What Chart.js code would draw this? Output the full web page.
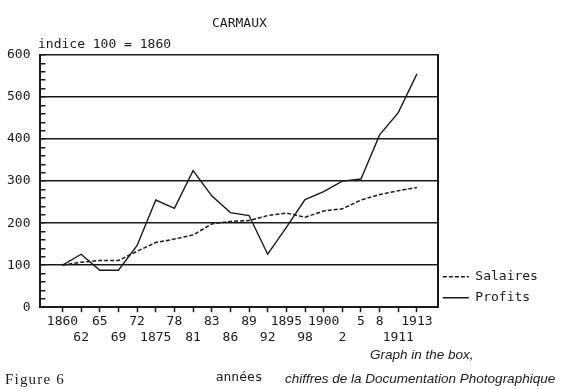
<!DOCTYPE html>
<html lang="fr">
<head>
<meta charset="utf-8">
<title>Carmaux</title>
<script src="https://cdn.jsdelivr.net/npm/chart.js@4"></script>
<style>
  html, body { margin: 0; padding: 0; background: #fff; }
  #wrap { position: relative; width: 568px; height: 389px; overflow: hidden; background: #fff; }
  #wrap canvas { position: absolute; left: 0; top: 0; }
  .note { position: absolute; white-space: nowrap; color: #1a1a1a; line-height: 1; }
  .mono { font-family: 'DejaVu Sans Mono', monospace; font-size: 13px; }
  .ital { font-family: 'Liberation Sans', sans-serif; font-style: italic; font-size: 13.5px; }
  .serif { font-family: 'Liberation Serif', serif; font-size: 15px; letter-spacing: 1.2px; }
</style>
</head>
<body>
<div id="wrap">
  <canvas id="carmaux-chart" width="568" height="389"></canvas>
  <div class="note mono" style="left:212px; top:16px;">CARMAUX</div>
  <div class="note mono" style="left:38px; top:37px;">indice 100 = 1860</div>
  <div class="note ital" style="left:370px; top:348px;">Graph in the box,</div>
  <div class="note serif" style="left:5px; top:372px;">Figure 6</div>
  <div class="note ital" style="left:285px; top:372px;">chiffres de la Documentation Photographique</div>
</div>
<script>
// Years of the data points (as printed under the axis)
const years = ['1860', '62', '65', '69', '72', '1875', '78', '81', '83', '86',
               '89', '92', '1895', '98', '1900', '2', '5', '8', '1911', '1913'];
// Which row of the axis each year label sits on (0 = upper, 1 = lower)
const labelRow = [0, 1, 0, 1, 0, 1, 0, 1, 0, 1,
                  0, 1, 0, 1, 0, 1, 0, 0, 1, 0];

// Index values, 100 = 1860
const salaires = [100, 107, 111, 111, 133, 154, 162, 172, 198, 204,
                  206, 218, 224, 214, 229, 234, 255, 268, 277, 285];
const profits = [100, 126, 88, 88, 147, 255, 235, 325, 265, 225,
                 218, 126, 190, 256, 275, 300, 305, 410, 463, 555];

const ink = '#1a1a1a';
const plotFont = { family: "'DejaVu Sans Mono', monospace", size: 13 };

// Points are evenly spaced, one per listed year
function toPoints(values) {
  return values.map((v, i) => ({ x: i, y: v }));
}

// move the legend box: a bit lower, and wide enough that the labels aren't clipped
const legendNudge = {
  id: 'legendNudge',
  afterLayout(chart) {
    const lg = chart.legend;
    if (!lg) return;
    lg.top += 5;
    lg.bottom += 5;
    lg.left -= 3;
    lg.right += 17;
  }
};

// legend samples drawn as lines, keeping each dataset's dash
function legendLabels(chart) {
  return Chart.defaults.plugins.legend.labels.generateLabels(chart).map(item => {
    const ds = chart.data.datasets[item.datasetIndex];
    return { ...item, lineDash: ds.borderDash || [], lineWidth: ds.borderWidth };
  });
}

const ctx = document.getElementById('carmaux-chart').getContext('2d');

const carmauxChart = new Chart(ctx, {
  type: 'line',
  data: {
    datasets: [
      {
        label: 'Salaires',
        data: toPoints(salaires),
        borderColor: ink,
        borderWidth: 1.5,
        borderDash: [4, 2],
        pointRadius: 0,
        tension: 0
      },
      {
        label: 'Profits',
        data: toPoints(profits),
        borderColor: ink,
        borderWidth: 1.4,
        pointRadius: 0,
        tension: 0
      }
    ]
  },
  options: {
    responsive: false,
    animation: false,
    layout: {
      padding: { left: -8, right: 41, top: 55, bottom: 4 }
    },
    scales: {
      x: {
        type: 'linear',
        min: -1.18,
        max: 20.12,
        afterBuildTicks: axis => {
          axis.ticks = years.map((_, i) => ({ value: i }));
        },
        ticks: {
          autoSkip: false,
          maxRotation: 0,
          padding: 2,
          color: ink,
          font: plotFont,
          callback: (value, index) => labelRow[index] === 0 ? [years[index], ''] : ['', years[index]]
        },
        grid: {
          drawOnChartArea: false,
          tickLength: 5,
          tickColor: ink,
          tickWidth: 1.5
        },
        border: { color: ink, width: 2 },
        title: {
          display: true,
          text: 'années',
          color: ink,
          font: plotFont,
          padding: { top: 22, bottom: 0 }
        }
      },
      y: {
        min: 0,
        max: 600,
        ticks: {
          stepSize: 20,
          autoSkip: false,
          padding: 15,
          color: ink,
          font: plotFont,
          callback: value => value % 100 === 0 ? value : ''
        },
        grid: {
          color: c => (c.tick && c.tick.value % 100 === 0) ? ink : 'rgba(0,0,0,0)',
          lineWidth: 1.5,
          tickLength: -5,
          tickColor: ink,
          tickWidth: 1.5
        },
        border: { color: ink, width: 2 }
      },
      y2: {
        position: 'right',
        min: 0,
        max: 600,
        ticks: { display: false },
        grid: { drawOnChartArea: false, drawTicks: false },
        border: { color: ink, width: 2 }
      }
    },
    plugins: {
      legend: {
        position: 'right',
        align: 'end',
        fullSize: false,
        labels: {
          usePointStyle: true,
          pointStyle: 'line',
          pointStyleWidth: 26,
          padding: 8,
          color: ink,
          font: plotFont,
          generateLabels: legendLabels
        }
      },
      tooltip: { enabled: false }
    }
  },
  plugins: [legendNudge]
});
</script>
</body>
</html>
